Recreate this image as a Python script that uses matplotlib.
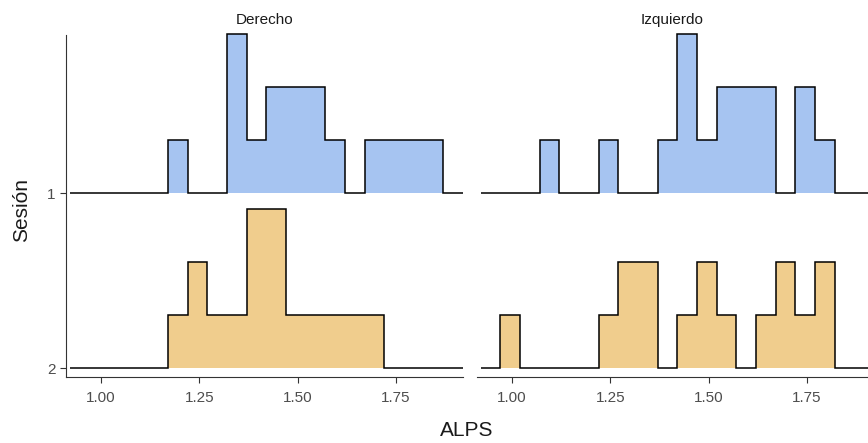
import numpy as np
import matplotlib.pyplot as plt

plt.rcParams['font.family'] = ['Liberation Sans', 'DejaVu Sans']

# bin edges of the histograms (binwidth 0.05)
edges = [0.92, 0.97, 1.02, 1.07, 1.12, 1.17, 1.22, 1.27, 1.32, 1.37, 1.42,
         1.47, 1.52, 1.57, 1.62, 1.67, 1.72, 1.77, 1.82, 1.87, 1.92]

# counts per bin, by side and session
der_s1 = [0, 0, 0, 0, 0, 1, 0, 0, 3, 1, 2, 2, 2, 1, 0, 1, 1, 1, 1, 0]
der_s2 = [0, 0, 0, 0, 0, 1, 2, 1, 1, 3, 3, 1, 1, 1, 1, 1, 0, 0, 0, 0]
izq_s1 = [0, 0, 0, 1, 0, 0, 1, 0, 0, 1, 3, 1, 2, 2, 2, 0, 2, 1, 0, 0]
izq_s2 = [0, 1, 0, 0, 0, 0, 1, 2, 2, 0, 1, 2, 1, 0, 1, 2, 1, 2, 0, 0]

panels = ['Derecho', 'Izquierdo']
sessions = ['1', '2']
xticks = [1.00, 1.25, 1.50, 1.75]

col_s1 = '#A6C4F1'
col_s2 = '#F0CD8D'
scale = 0.303  # height per count, in row units

W, H = 868, 443
fig = plt.figure(figsize=(W / 100, H / 100), dpi=100)

px_per_unit = 393.3
x0 = 0.911
bottom = 1 - 377 / H
height = (377 - 35) / H

ax1 = fig.add_axes([66 / W, bottom, 397 / W, height])
ax2 = fig.add_axes([477 / W, bottom, (W - 477) / W, height])

data = {ax1: (der_s1, der_s2), ax2: (izq_s1, izq_s2)}

for ax, title in zip([ax1, ax2], panels):
    s1, s2 = data[ax]
    for counts, base, col in [(s1, 1, col_s1), (s2, 0, col_s2)]:
        vals = base + np.array(counts) * scale
        ax.stairs(vals, edges, baseline=base, fill=True, color=col, lw=0,
                  clip_on=False)
        ax.stairs(vals, edges, baseline=base, fill=False, color='black',
                  lw=1.1, clip_on=False)
    ax.set_ylim(-0.051, 1.905)
    ax.set_xticks(xticks)
    ax.set_xticklabels(['%.2f' % t for t in xticks])
    ax.tick_params(axis='x', colors='#333333', labelcolor='#4D4D4D',
                   labelsize=11, length=4, width=0.8, pad=6)
    for s in ['top', 'right']:
        ax.spines[s].set_visible(False)
    ax.spines['bottom'].set_color('#333333')
    ax.spines['bottom'].set_linewidth(0.8)
    ax.set_title(title, fontsize=11, color='#1A1A1A', pad=8)

ax1.set_xlim(x0, x0 + 397 / px_per_unit)
ax2.set_xlim(x0, x0 + (W - 477) / px_per_unit)

ax1.set_yticks([1, 0])
ax1.set_yticklabels(sessions)
ax1.tick_params(axis='y', colors='#333333', labelcolor='#4D4D4D',
                labelsize=11, length=4, width=0.8)
ax1.spines['left'].set_color('#333333')
ax1.spines['left'].set_linewidth(0.8)
ax2.spines['left'].set_visible(False)
ax2.set_yticks([])

fig.text(22 / W, 1 - 210 / H, 'Sesión', rotation=90, ha='center', va='center',
         fontsize=15, color='#1A1A1A')
fig.text(467 / W, 1 - 430 / H, 'ALPS', ha='center', va='center',
         fontsize=15, color='#1A1A1A')

fig.savefig('out.png', dpi=100)
